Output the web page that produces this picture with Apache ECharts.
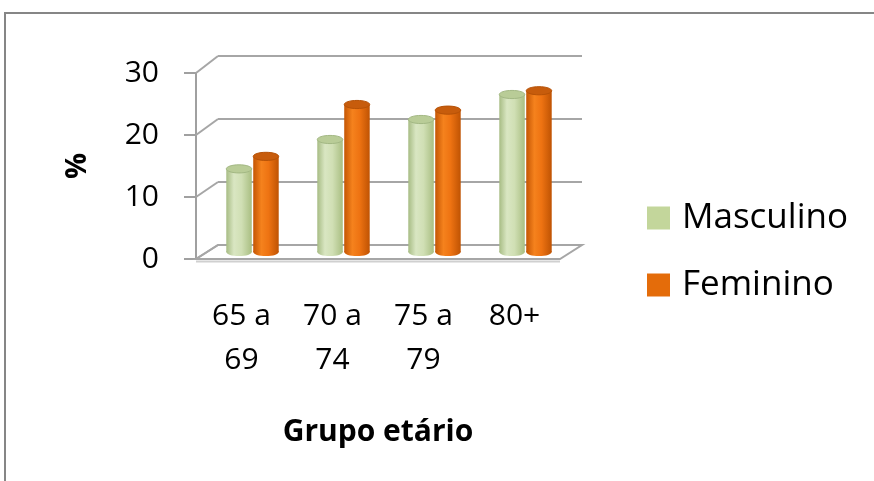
<!DOCTYPE html>
<html>
<head>
<meta charset="utf-8">
<title>Grupo etário</title>
<script src="https://cdn.jsdelivr.net/npm/echarts@6/dist/echarts.min.js"></script>
<style>
  html, body { margin: 0; padding: 0; background: #ffffff; }
  #chart { width: 874px; height: 481px; }
</style>
</head>
<body>
<div id="chart"></div>
<script>
// Age groups and percentage per sex
const categories = ['65 a\n69', '70 a\n74', '75 a\n79', '80+'];
const masculino = [13.3, 18.0, 21.2, 25.2];
const feminino = [15.3, 23.6, 22.7, 25.8];
const seriesNames = ['Masculino', 'Feminino'];
const yMin = 0;
const yMax = 30;
const yStep = 10;
const yTicks = [0, 10, 20, 30];

const FONT = 'Open Sans';
const GRID_LINE = '#a6a6a6';

const chart = echarts.init(document.getElementById('chart'), null, { renderer: 'canvas' });

// Horizontal shading of a cylinder body
function bodyFill(stops) {
  return new echarts.graphic.LinearGradient(0, 0, 1, 0, stops);
}
const looks = [
  {
    body: [
      { offset: 0, color: '#a7bc84' },
      { offset: 0.3, color: '#d9e6c2' },
      { offset: 0.6, color: '#d0dfb4' },
      { offset: 1, color: '#a9be82' }
    ],
    top: '#b9cc97',
    rim: '#a3b884'
  },
  {
    body: [
      { offset: 0, color: '#c45604' },
      { offset: 0.32, color: '#f5821d' },
      { offset: 0.6, color: '#ee7312' },
      { offset: 1, color: '#bf5303' }
    ],
    top: '#c75c0c',
    rim: '#b65207'
  }
];

// One cylinder per data item, placed in the mid-depth plane
function cylinder(side, look) {
  return function (params, api) {
    const idx = api.value(0);
    const val = api.value(1);
    const base = api.coord([idx, 0]);
    const top = api.coord([idx, val]);
    const band = api.size([1, 0])[0];
    const w = band * 0.28;
    const cx = base[0] + side * band * 0.148;
    const rx = w / 2;
    const ry = w * 0.16;
    const fill = bodyFill(look.body);
    return {
      type: 'group',
      children: [
        { type: 'ellipse', shape: { cx: cx, cy: base[1], rx: rx, ry: ry }, style: { fill: fill } },
        { type: 'rect', shape: { x: cx - rx, y: top[1], width: w, height: base[1] - top[1] }, style: { fill: fill } },
        { type: 'ellipse', shape: { cx: cx, cy: top[1], rx: rx, ry: ry }, style: { fill: look.top, stroke: look.rim, lineWidth: 1 } }
      ]
    };
  };
}

function pairs(values) {
  return values.map(function (v, i) { return [i, v]; });
}

const option = {
  animation: false,
  backgroundColor: '#ffffff',
  textStyle: { fontFamily: FONT },
  grid: [
    { left: 218, top: 56, width: 364, height: 189 },   // back wall
    { left: 196, top: 73, width: 364, height: 186 },   // front plane
    { left: 207, top: 64.5, width: 364, height: 187.5 } // mid depth (bars)
  ],
  xAxis: [
    { type: 'category', gridIndex: 0, data: categories, show: false },
    {
      type: 'category', gridIndex: 1, data: categories,
      axisLine: { show: false },
      axisTick: { show: false },
      axisLabel: { fontFamily: FONT, fontSize: 30, color: '#000', lineHeight: 44, margin: 35 },
      name: 'Grupo etário',
      nameLocation: 'middle',
      nameGap: 158,
      nameTextStyle: { fontFamily: FONT, fontSize: 30, fontWeight: 'bold', color: '#000' }
    },
    { type: 'category', gridIndex: 2, data: categories, show: false }
  ],
  yAxis: [
    {
      type: 'value', gridIndex: 0, min: yMin, max: yMax, interval: yStep,
      axisLine: { show: false }, axisTick: { show: false }, axisLabel: { show: false },
      splitLine: { show: true, lineStyle: { color: GRID_LINE, width: 2 } }
    },
    {
      type: 'value', gridIndex: 1, min: yMin, max: yMax, interval: yStep,
      axisLine: { show: true, lineStyle: { color: '#a0a0a0', width: 2 } },
      axisTick: { show: true, length: 12, lineStyle: { color: '#a0a0a0', width: 2 } },
      axisLabel: { fontFamily: FONT, fontSize: 30, color: '#000', margin: 37 },
      splitLine: { show: false },
      name: '%',
      nameLocation: 'middle',
      nameRotate: 90,
      nameGap: 104,
      nameTextStyle: { fontFamily: FONT, fontSize: 29, fontWeight: 'bold', color: '#000' }
    },
    { type: 'value', gridIndex: 2, min: yMin, max: yMax, interval: yStep, show: false, splitLine: { show: false } }
  ],
  legend: {
    data: seriesNames,
    orient: 'vertical',
    left: 647,
    top: 198,
    padding: 0,
    itemWidth: 23,
    itemHeight: 23,
    itemGap: 27,
    icon: 'rect',
    textStyle: { fontFamily: FONT, fontSize: 35, lineHeight: 40, color: '#000', padding: [0, 0, 0, 7] }
  },
  series: [
    {
      name: seriesNames[0], type: 'custom', xAxisIndex: 2, yAxisIndex: 2,
      itemStyle: { color: '#c3d69b' },
      renderItem: cylinder(-1, looks[0]),
      data: pairs(masculino), z: 5
    },
    {
      name: seriesNames[1], type: 'custom', xAxisIndex: 2, yAxisIndex: 2,
      itemStyle: { color: '#e46c0a' },
      renderItem: cylinder(1, looks[1]),
      data: pairs(feminino), z: 5
    }
  ]
};

chart.setOption(option);

// Floor and side-wall edges joining the front axis to the back wall
function edgeX(gridIndex, v) {
  const a = chart.convertToPixel({ gridIndex: gridIndex }, [0, v]);
  const b = chart.convertToPixel({ gridIndex: gridIndex }, [1, v]);
  const band = b[0] - a[0];
  return { left: a[0] - band / 2, right: a[0] - band / 2 + band * categories.length, y: a[1] };
}

const graphics = [
  {
    type: 'rect', z: -10, silent: true,
    shape: { x: 5, y: 13, width: 900, height: 520 },
    style: { fill: 'none', stroke: '#868686', lineWidth: 2 }
  }
];

const f0 = edgeX(1, 0);
const b0 = edgeX(0, 0);
graphics.push({
  type: 'polygon', z: 1, silent: true,
  shape: { points: [[f0.left, f0.y], [f0.right, f0.y], [b0.right, b0.y], [b0.left, b0.y]] },
  style: { fill: '#ffffff', stroke: GRID_LINE, lineWidth: 2 }
});
graphics.push({
  type: 'line', z: 1, silent: true,
  shape: { x1: f0.left, y1: f0.y + 2.5, x2: f0.right, y2: f0.y + 2.5 },
  style: { stroke: '#d0d0d0', lineWidth: 2 }
});
yTicks.forEach(function (v) {
  const f = edgeX(1, v);
  const b = edgeX(0, v);
  graphics.push({
    type: 'line', z: 1, silent: true,
    shape: { x1: f.left, y1: f.y, x2: b.left, y2: b.y },
    style: { stroke: GRID_LINE, lineWidth: 2 }
  });
});

chart.setOption({ graphic: graphics });
</script>
</body>
</html>
